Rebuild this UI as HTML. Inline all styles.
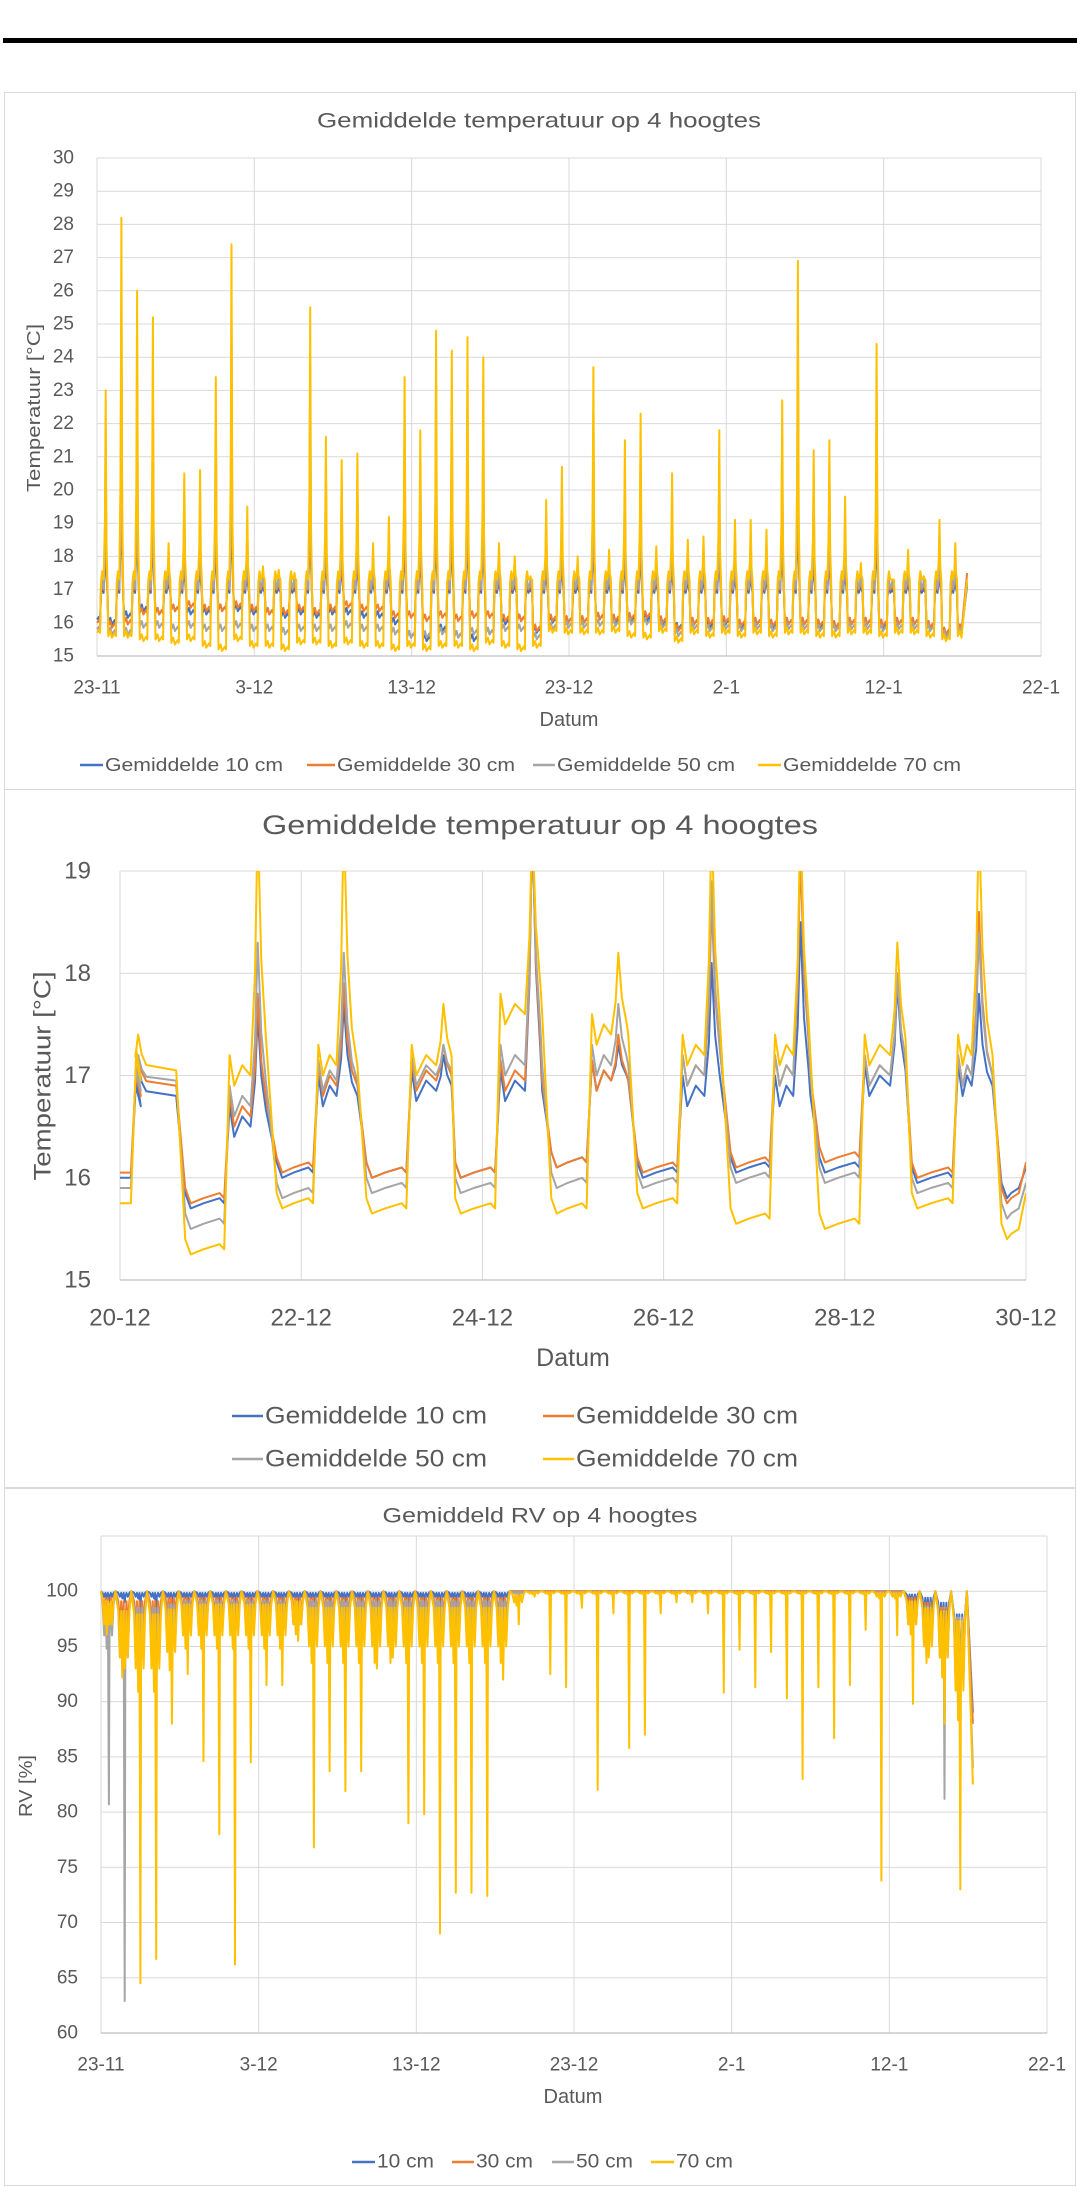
<!DOCTYPE html>
<html><head><meta charset="utf-8"><style>
html,body{margin:0;padding:0;background:#fff;}
svg{display:block;font-family:"Liberation Sans",sans-serif;}
text{fill:#595959;}
</style></head><body>
<svg id="root" width="1077" height="2187" viewBox="0 0 1077 2187">
<rect x="3" y="38" width="1074" height="5" fill="#000"/>
<rect x="4.5" y="92.5" width="1071" height="697" fill="#fff" stroke="#d9d9d9"/>
<rect x="4.5" y="789.5" width="1071" height="698" fill="#fff" stroke="#d9d9d9"/>
<rect x="4.5" y="1488.5" width="1071" height="697" fill="#fff" stroke="#d9d9d9"/>
<defs>
<clipPath id="clip2"><rect x="120" y="871" width="906" height="409"/></clipPath>
</defs>
<g id="c1"></g>
<g id="c2"></g>
<g id="c3"></g>
</svg>
<script>
// ---------- DATA ----------
const seriesNames = ['10 cm','30 cm','50 cm','70 cm'];
const seriesColors = ['#4472C4','#ED7D31','#A5A5A5','#FFC000'];
const dateTicks = ['23-11','3-12','13-12','23-12','2-1','12-1','22-1'];
const yTicks1 = [15,16,17,18,19,20,21,22,23,24,25,26,27,28,29,30];
const peakMax1 = [23,28.2,26,25.2,18.4,20.5,20.6,23.4,27.4,19.5,17.7,17.6,17.5,25.5,21.6,20.9,21.1,18.4,19.2,23.4,21.8,24.8,24.2,24.6,24.0,18.4,18.0,17.4,19.7,20.7,18.0,23.7,18.2,21.5,22.3,18.3,20.5,18.5,18.6,21.8,19.1,19.1,18.8,22.7,26.9,21.2,21.5,19.8,17.8,24.4,17.3,18.2,17.4,19.1,18.4];
const peakRatio1 = [0.5,0.62,0.8,1];
const plateau1 = [16.9,17.0,17.05,17.3];
const low1_10 = [16.0,16.2,16.4,16.3,16.4,16.3,16.3,16.4,16.4,16.3,16.3,16.2,16.3,16.2,16.3,16.3,16.2,16.2,16.0,15.6,15.5,15.8,15.6,15.5,15.7,16.0,16.1,15.75,16.05,16.05,16.05,16.15,16.05,16.1,16.1,16.0,15.85,16.0,15.9,16.0,15.9,16.0,15.9,16.0,16.0,15.9,15.9,16.0,16.0,15.9,16.0,16.0,15.9,15.7,15.8];
const low1_30 = [15.9,16.0,16.3,16.3,16.4,16.5,16.4,16.4,16.5,16.4,16.3,16.3,16.4,16.3,16.4,16.5,16.4,16.4,16.2,16.2,16.1,16.2,16.1,16.2,16.2,16.1,16.1,15.8,16.1,16.05,16.05,16.15,16.1,16.15,16.2,16.05,15.8,16.0,16.0,16.05,15.95,16.0,15.95,16.0,16.0,15.95,15.9,16.0,16.0,15.95,16.0,16.0,15.9,15.7,15.8];
const low1_50 = [15.7,15.7,15.9,15.9,15.8,15.9,15.8,15.8,15.9,15.8,15.8,15.7,15.8,15.8,15.8,15.9,15.8,15.8,15.7,15.6,15.6,15.7,15.6,15.7,15.7,15.8,15.8,15.55,15.85,15.9,15.9,15.95,15.95,16.0,16.0,15.9,15.65,15.85,15.8,15.85,15.8,15.85,15.8,15.85,15.85,15.8,15.8,15.85,15.85,15.8,15.85,15.85,15.8,15.6,15.7];
const low1_70 = [15.6,15.6,15.5,15.5,15.4,15.5,15.3,15.2,15.5,15.3,15.3,15.2,15.4,15.4,15.3,15.4,15.3,15.3,15.2,15.3,15.2,15.3,15.3,15.2,15.4,15.3,15.2,15.3,15.75,15.7,15.7,15.7,15.75,15.6,15.55,15.75,15.45,15.7,15.6,15.7,15.6,15.7,15.6,15.7,15.7,15.6,15.6,15.7,15.7,15.6,15.7,15.7,15.6,15.5,15.6];
const start1 = [16.1,16.0,15.8,15.7];
const end1 = [17.1,17.5,17.2,17.3];

const zoomTicks = ['20-12','22-12','24-12','26-12','28-12','30-12'];
const yTicks2 = [15,16,17,18,19];
const riseT2 = [0.15,1.18,2.16,3.19,4.17,5.18,6.18,7.2,8.19,9.22];
const peakT2 = [0.2,1.52,2.47,3.57,4.55,5.5,6.53,7.51,8.58,9.48];
const dropT2 = [0.66,1.67,2.66,3.64,4.7,5.65,6.68,7.66,8.68,9.67];
const peak2_10 = [17.1,17.6,17.7,17.2,19.5,17.3,18.1,18.5,17.9,17.8];
const peak2_30 = [17.2,17.8,17.9,17.3,19.5,17.4,18.7,19.2,18.0,18.6];
const peak2_50 = [17.2,18.3,18.2,17.3,19.5,17.7,18.9,19.5,18.0,18.4];
const peak2_70 = [17.4,19.5,19.5,17.7,19.5,18.2,19.5,19.5,18.3,19.5];
const plat2_10 = [16.8,16.5,16.8,16.85,16.85,16.95,16.8,16.8,16.9,16.9];
const plat2_30 = [16.9,16.6,16.9,16.95,16.95,16.95,17.0,17.0,17.0,17.0];
const plat2_50 = [16.95,16.7,16.95,17.0,17.1,17.1,17.0,17.0,17.0,17.0];
const plat2_70 = [17.05,17.0,17.1,17.1,17.6,17.4,17.2,17.2,17.2,17.2];
const low2_10 = [15.75,16.05,16.05,16.05,16.15,16.05,16.1,16.1,16.0,15.85];
const low2_30 = [15.8,16.1,16.05,16.05,16.15,16.1,16.15,16.2,16.05,15.8];
const low2_50 = [15.55,15.85,15.9,15.9,15.95,15.95,16.0,16.0,15.9,15.65];
const low2_70 = [15.3,15.75,15.7,15.7,15.7,15.75,15.6,15.55,15.75,15.45];
const preLow2 = [16.0,16.05,15.9,15.75];
const end2 = [16.1,16.15,15.95,15.85];

const yTicks3 = [60,65,70,75,80,85,90,95,100];
const rvMin10 = [99,99,95,96,98,99,99,99,99,99,99,99,99,99,99,99,99,98,98,98,98,97,97,98,98,99,100,100,100,100,100,100,100,100,100,100,100,100,100,100,100,100,100,100,100,100,100,100,100,100,100,99,98,96,92];
const rvMin30 = [92,87,87,92,95,97,97,96,96,97,97,97,98,97,97,96,97,96,95,95,94,94,94,95,95,97,99,100,100,100,100,99,100,100,100,100,100,100,100,99,100,99,100,99,98,99,99,99,100,98,100,98,96,92,90];
const rvMin50 = [80.7,62.9,76,88,93,95,96,95,94,96,95,96,96,95,95,95,96,95,94,94,93,92,93,92,93,95,98,100,99,99,100,98,100,99,99,100,100,100,100,98,99,98,99,98,97,98,98,98,99,97,99,97,95,81.2,90];
const rvMin70 = [97,93,64.5,66.7,88,92.5,84.6,78,66.2,84.5,91.5,91.5,95.5,76.8,83.7,81.9,83.7,93,94,79,79.8,69,72.7,72.7,72.4,92,97,99.5,92.5,91.3,98.5,82,98,85.8,87,98,99,99,98,90.8,94.7,91.3,94.5,90.3,83,91.3,86.7,91.5,96.5,73.8,96,89.8,94,88,73];
const rvBand10 = [99.5,99.5,99.5,99.5,99.5,99.5,99.5,99.5,99.5,99.5,99.5,99.5,99.5,99.5,99.5,99.5,99.5,99.5,99.5,99.5,99.5,99.5,99.5,99.5,99.5,99.5,100,100,100,100,100,100,100,100,100,100,100,100,100,100,100,100,100,100,100,100,100,100,100,100,100,99,98,96.5,93];
const rvBand30 = [98,97,97,97,98,98,98,98,98,98,98,98,98,98,98,98,98,98,98,98,98,98,98,98,98,98,100,100,100,100,100,100,100,100,100,100,100,100,100,100,100,100,100,100,100,100,100,100,100,100,100,98,96.5,95,92];
const rvBand50 = [96,94,95,95,96,97,97,97,97,97,97,97,97,97,97,97,97,97,97,97,97,97,97,97,97,97,99.8,99.8,99.8,99.8,99.8,99.8,99.8,99.8,99.8,99.8,99.8,99.8,99.8,99.8,99.8,99.8,99.8,99.8,99.8,99.8,99.8,99.8,99.8,99.8,99.8,97,95.5,94,92];
const rvBand70 = [97,94,93,93,94.5,96,96,96,96,96,96,96,97,95,95,95,95,95,95,95,95,95,95,95,95,95,99,99.8,99.8,99.8,99.8,99.8,99.8,99.8,99.8,99.8,99.8,99.8,99.8,99.8,99.8,99.8,99.8,99.8,99.8,99.8,99.8,99.8,99.8,99.5,99.5,97,95,94,91];
const rvEnd = [89,88,84,82.5];

// ---------- HELPERS ----------
const NS='http://www.w3.org/2000/svg';
function mk(parent, tag, attrs){const e=document.createElementNS(NS,tag);for(const k in attrs)e.setAttribute(k,attrs[k]);parent.appendChild(e);return e;}
function txt(parent, x, y, s, size, anchor, extra){const t=mk(parent,'text',Object.assign({x:x,y:y,'font-size':size,'text-anchor':anchor||'middle','dominant-baseline':'central'},extra||{}));t.textContent=s;return t;}
function pathD(pts){return pts.map((p,i)=>(i?'L':'M')+p[0].toFixed(1)+' '+p[1].toFixed(1)).join('');}

function axes(g, X, Y, x0, x1, yT, yVals, xLabels, xDays, yLabX, fs, xLabY, yLabFmt){
  yVals.forEach(v=>{
    const l=mk(g,'line',{x1:x0,x2:x1,y1:Y(v),y2:Y(v),stroke:'#d9d9d9','stroke-width':1});
    
    
    const t=txt(g,yLabX,Y(v),String(v),fs,'end');
    
    
  });
  xDays.forEach((d,i)=>{
    const l=mk(g,'line',{x1:X(d),x2:X(d),y1:yT,y2:Y(yVals[0]),stroke:'#d9d9d9','stroke-width':1});
    
    
    const t=txt(g,X(d),xLabY,xLabels[i],fs,'middle');
    
    
  });
  const top=mk(g,'line',{x1:x0,x2:x1,y1:yT,y2:yT,stroke:'#d9d9d9'});
  
  
  const ax=mk(g,'line',{x1:x0,x2:x1,y1:Y(yVals[0]),y2:Y(yVals[0]),stroke:'#bfbfbf','stroke-width':1.3});
  
  
}
function series(g, d, i, clip){
  const p=mk(g,'path',{d:d,fill:'none',stroke:seriesColors[i],'stroke-width':2,'stroke-linejoin':'round'});
  if(clip)p.setAttribute('clip-path',clip);
  
  
}
function legendItem(g, lx, ty, label, fs, w){
  const l=mk(g,'line',{x1:lx,x2:lx+24,y1:ty,y2:ty,stroke:'#000','stroke-width':2.5});
  return l;
}

// ---------- CHART 1 ----------
(function(){
  const g=document.getElementById('c1');
  const X=d=>97+d/60*944, Y=v=>656-(v-15)/15*498;
  axes(g,X,Y,97,1041,158,yTicks1,dateTicks,[0,10,20,30,40,50,60],74,19,688);
  const t=txt(g,539,121,'Gemiddelde temperatuur op 4 hoogtes',21,'middle',{textLength:444,lengthAdjust:'spacingAndGlyphs'});
  
  
  const xt=txt(g,569,720,'Datum',20,'middle');
  
  
  const yt=txt(g,0,0,'Temperatuur [°C]',18,'middle',{transform:'translate(34,408) rotate(-90)',textLength:168,lengthAdjust:'spacingAndGlyphs'});
  
  
  const lows=[low1_10,low1_30,low1_50,low1_70];
  for(let s=0;s<4;s++){
    const pts=[[X(0),Y(start1[s])]];
    let prev=start1[s];
    for(let d=0;d<peakMax1.length;d++){
      const pl=plateau1[s], pk=pl+(peakMax1[d]-pl)*peakRatio1[s];
      pts.push([X(d+0.12),Y(prev+0.08)],[X(d+0.2),Y(prev)],[X(d+0.25),Y(pl-0.1)],[X(d+0.33),Y(pl+0.25)],[X(d+0.42),Y(pl)],[X(d+0.5),Y(pl+(pk-pl)*0.3)],[X(d+0.55),Y(pk)],[X(d+0.6),Y(pl+(pk-pl)*0.2)],[X(d+0.66),Y(pl)],[X(d+0.72),Y(lows[s][d])],[X(d+0.85),Y(lows[s][d]+0.15)],[X(d+0.95),Y(lows[s][d]-0.05)]);
      prev=lows[s][d];
    }
    pts.push([X(55.3),Y(end1[s])]);
    series(g,pathD(pts),s);
  }
  const leg=[[80,105],[307,337],[533,557],[758,783]];
  leg.forEach((p,i)=>{
    const l=mk(g,'line',{x1:p[0],x2:p[1]-2,y1:765,y2:765,stroke:seriesColors[i],'stroke-width':2.5});
    
    
    const tt=txt(g,p[1],765,'Gemiddelde '+seriesNames[i],18,'start',{textLength:178,lengthAdjust:'spacingAndGlyphs'});
    
    
  });
})();

// ---------- CHART 2 ----------
(function(){
  const g=document.getElementById('c2');
  const X=d=>120+d/10*906, Y=v=>1280-(v-15)/4*409;
  axes(g,X,Y,120,1026,871,yTicks2,zoomTicks,[0,2,4,6,8,10],91,24,1318);
  const t=txt(g,540,825,'Gemiddelde temperatuur op 4 hoogtes',27,'middle',{textLength:556,lengthAdjust:'spacingAndGlyphs'});
  
  
  const xt=txt(g,573,1358,'Datum',25,'middle');
  
  
  const yt=txt(g,0,0,'Temperatuur [°C]',24,'middle',{transform:'translate(43,1076) rotate(-90)',textLength:209,lengthAdjust:'spacingAndGlyphs'});
  
  
  const peaks=[peak2_10,peak2_30,peak2_50,peak2_70], plats=[plat2_10,plat2_30,plat2_50,plat2_70], lows=[low2_10,low2_30,low2_50,low2_70];
  for(let s=0;s<4;s++){
    let prev=preLow2[s];
    const pts=[[X(0),Y(prev)]];
    for(let d=0;d<riseT2.length;d++){
      const pl=plats[s][d], pk=peaks[s][d], lo=lows[s][d];
      pts.push([X(riseT2[d]-0.03),Y(prev)],[X(riseT2[d]+0.03),Y(pl+0.2)],[X(riseT2[d]+0.08),Y(pl-0.1)]);
      if(peakT2[d]-riseT2[d]>0.2){pts.push([X((riseT2[d]+peakT2[d])/2),Y(pl+0.1)],[X(peakT2[d]-0.08),Y(pl)]);}
      pts.push([X(peakT2[d]-0.03),Y(pl+(pk-pl)*0.4)],[X(peakT2[d]),Y(pk)],[X(peakT2[d]+0.04),Y(pl+(pk-pl)*0.45)],[X(peakT2[d]+0.09),Y(pl+(pk-pl)*0.15)]);
      if(dropT2[d]-peakT2[d]>0.15){pts.push([X(dropT2[d]-0.04),Y(pl)]);}
      const nextRise=d+1<riseT2.length?riseT2[d+1]:10;
      pts.push([X(dropT2[d]+0.06),Y(lo+0.1)],[X(dropT2[d]+0.12),Y(lo-0.05)],[X((dropT2[d]+nextRise)/2),Y(lo)],[X(nextRise-0.08),Y(lo+0.05)]);
      prev=lo;
    }
    pts.push([X(10),Y(end2[s])]);
    series(g,pathD(pts),s,'url(#clip2)');
  }
  const leg=[[232,265,1416],[543,576,1416],[232,265,1459],[543,576,1459]];
  leg.forEach((p,i)=>{
    const l=mk(g,'line',{x1:p[0],x2:p[1]-2,y1:p[2],y2:p[2],stroke:seriesColors[i],'stroke-width':2.5});
    
    
    const tt=txt(g,p[1],p[2],'Gemiddelde '+seriesNames[i],24,'start',{textLength:222,lengthAdjust:'spacingAndGlyphs'});
    
    
  });
})();

// ---------- CHART 3 ----------
(function(){
  const g=document.getElementById('c3');
  const X=d=>101+d/60*946, Y=v=>2033-(v-60)*(497/45);
  axes(g,X,Y,101,1047,1536,yTicks3,dateTicks,[0,10,20,30,40,50,60],78,19,2065);
  const t=txt(g,540,1516,'Gemiddeld RV op 4 hoogtes',21,'middle',{textLength:315,lengthAdjust:'spacingAndGlyphs'});
  
  
  const xt=txt(g,573,2097,'Datum',20,'middle');
  
  
  const yt=txt(g,0,0,'RV [%]',18,'middle',{transform:'translate(26,1786) rotate(-90)',textLength:62,lengthAdjust:'spacingAndGlyphs'});
  
  
  const mins=[rvMin10,rvMin30,rvMin50,rvMin70], bands=[rvBand10,rvBand30,rvBand50,rvBand70];
  for(let s=0;s<4;s++){
    const pts=[[X(0),Y(100)]];
    for(let d=0;d<mins[s].length;d++){
      const b=bands[s][d], m=mins[s][d], n=100-(100-b)*0.3;
      pts.push([X(d+0.1),Y(n)],[X(d+0.2),Y(b)],[X(d+0.28),Y(n)],[X(d+0.36),Y(b-(100-b)*0.3)],[X(d+0.44),Y(n)],[X(d+0.5),Y(m)],[X(d+0.54),Y(b)],[X(d+0.62),Y(n)],[X(d+0.7),Y(b)],[X(d+0.8),Y(n)],[X(d+0.92),Y(Math.min(100,n+(100-b)*0.3))]);
    }
    pts.push([X(55.3),Y(rvEnd[s])]);
    series(g,pathD(pts),s);
  }
  const leg=[[352,377],[452,476],[552,576],[651,676]];
  leg.forEach((p,i)=>{
    const l=mk(g,'line',{x1:p[0],x2:p[1]-2,y1:2162,y2:2162,stroke:seriesColors[i],'stroke-width':2.5});
    
    
    const tt=txt(g,p[1],2162,seriesNames[i],19,'start',{textLength:57,lengthAdjust:'spacingAndGlyphs'});
    
    
  });
})();
</script>
</body></html>
